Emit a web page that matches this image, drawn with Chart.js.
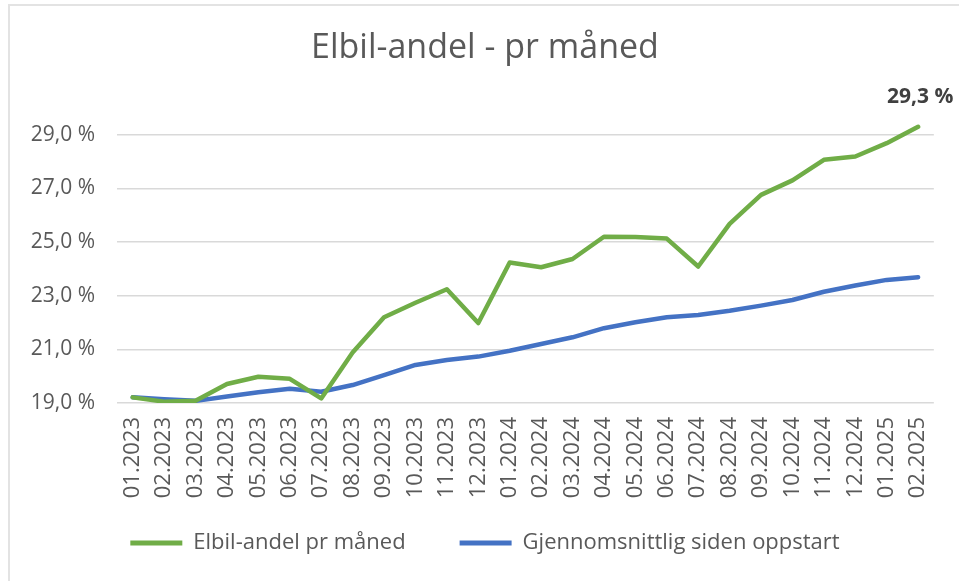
<!DOCTYPE html>
<html>
<head>
<meta charset="utf-8">
<script src="https://cdn.jsdelivr.net/npm/chart.js@4.4.1/dist/chart.umd.min.js"></script>
<style>
  html, body { margin: 0; padding: 0; background: #fff; }
  #wrap { position: relative; width: 959px; height: 581px; overflow: hidden; }
  #ramme { position: absolute; left: 8px; top: 4px; width: 1000px; height: 700px; border: 2px solid #e3e3e3; }
  #elbil { position: absolute; left: 0; top: 0; }
</style>
</head>
<body>
<div id="wrap">
  <div id="ramme"></div>
  <canvas id="elbil" width="959" height="581"></canvas>
</div>
<script>
// data lest av fra bildet (prosent)
const maaneder = [
  '01.2023', '02.2023', '03.2023', '04.2023', '05.2023', '06.2023', '07.2023',
  '08.2023', '09.2023', '10.2023', '11.2023', '12.2023',
  '01.2024', '02.2024', '03.2024', '04.2024', '05.2024', '06.2024', '07.2024',
  '08.2024', '09.2024', '10.2024', '11.2024', '12.2024',
  '01.2025', '02.2025'
];
const elbilAndel = [
  19.21, 19.05, 19.08, 19.71, 19.98, 19.90, 19.17, 20.88, 22.20, 22.74, 23.24, 21.98,
  24.24, 24.06, 24.37, 25.20, 25.19, 25.13, 24.09, 25.68, 26.76, 27.30, 28.07, 28.19,
  28.69, 29.30
];
const snittSidenStart = [
  19.21, 19.14, 19.08, 19.24, 19.40, 19.53, 19.42, 19.67, 20.04, 20.42, 20.60, 20.73,
  20.95, 21.20, 21.45, 21.79, 22.01, 22.20, 22.28, 22.44, 22.63, 22.84, 23.15, 23.38,
  23.59, 23.69
];
const yTicks = [19, 21, 23, 25, 27, 29];

const tekstFarge = '#595959';
const font = 'Open Sans';

const pst = v => v.toFixed(1).replace('.', ',') + ' %';

// etikett over siste punkt
const sisteEtikett = {
  id: 'sisteEtikett',
  beforeDraw(chart) {
    // ikke klipp aksetekstene til aksens egen boks
    Object.values(chart.scales).forEach(s => { s._computeLabelArea = () => undefined; });
  },
  afterDatasetsDraw(chart) {
    const meta = chart.getDatasetMeta(0);
    const i = elbilAndel.length - 1;
    const p = meta.data[i];
    const ctx = chart.ctx;
    ctx.save();
    ctx.font = 'bold 21px "' + font + '"';
    ctx.fillStyle = '#404040';
    ctx.textAlign = 'center';
    ctx.textBaseline = 'middle';
    ctx.fillText(pst(elbilAndel[i]), p.x + 2, p.y - 30);
    ctx.restore();
  }
};

const ctx = document.getElementById('elbil').getContext('2d');
new Chart(ctx, {
  type: 'line',
  data: {
    labels: maaneder,
    datasets: [{
      label: 'Elbil-andel pr måned',
      data: elbilAndel,
      borderColor: '#70AD47',
      backgroundColor: '#70AD47',
      borderWidth: 4.5,
      pointRadius: 0,
      tension: 0,
      borderCapStyle: 'round',
      borderJoinStyle: 'round'
    }, {
      label: 'Gjennomsnittlig siden oppstart',
      data: snittSidenStart,
      borderColor: '#4472C4',
      backgroundColor: '#4472C4',
      borderWidth: 4.5,
      pointRadius: 0,
      tension: 0,
      borderCapStyle: 'round',
      borderJoinStyle: 'round'
    }]
  },
  options: {
    responsive: false,
    devicePixelRatio: 1,
    animation: false,
    layout: {
      padding: { left: 36, right: 25, top: 0, bottom: 17 }
    },
    scales: {
      x: {
        offset: true,
        grid: { display: false, drawTicks: false },
        border: { display: false },
        ticks: {
          minRotation: 90,
          maxRotation: 90,
          autoSkip: false,
          padding: 14,
          color: tekstFarge,
          font: { family: font, size: 22 }
        },
        afterFit(scale) { scale.height = 75; }
      },
      y: {
        min: 19,
        max: 30,
        grid: { color: '#d9d9d9', lineWidth: 1.5, drawTicks: false },
        border: { display: false },
        ticks: {
          padding: 22,
          color: tekstFarge,
          font: { family: font, size: 21 },
          callback: v => pst(v)
        },
        afterBuildTicks(scale) {
          scale.ticks = yTicks.map(v => ({ value: v }));
        },
        afterFit(scale) { scale.width = 81; }
      }
    },
    plugins: {
      title: {
        display: true,
        text: 'Elbil-andel - pr måned',
        color: tekstFarge,
        font: { family: font, size: 34, weight: 'normal', lineHeight: 1.2 },
        padding: { top: 27.6, bottom: 39.6 }
      },
      legend: {
        position: 'bottom',
        labels: {
          boxWidth: 52,
          boxHeight: 5,
          padding: 54,
          color: tekstFarge,
          font: { family: font, size: 22 },
          generateLabels(chart) {
            return chart.data.datasets.map((ds, i) => ({
              text: ds.label,
              fillStyle: ds.borderColor,
              strokeStyle: ds.borderColor,
              lineWidth: 0,
              hidden: false,
              datasetIndex: i,
              fontColor: tekstFarge
            }));
          }
        }
      },
      tooltip: { enabled: false }
    }
  },
  plugins: [sisteEtikett]
});
</script>
</body>
</html>
